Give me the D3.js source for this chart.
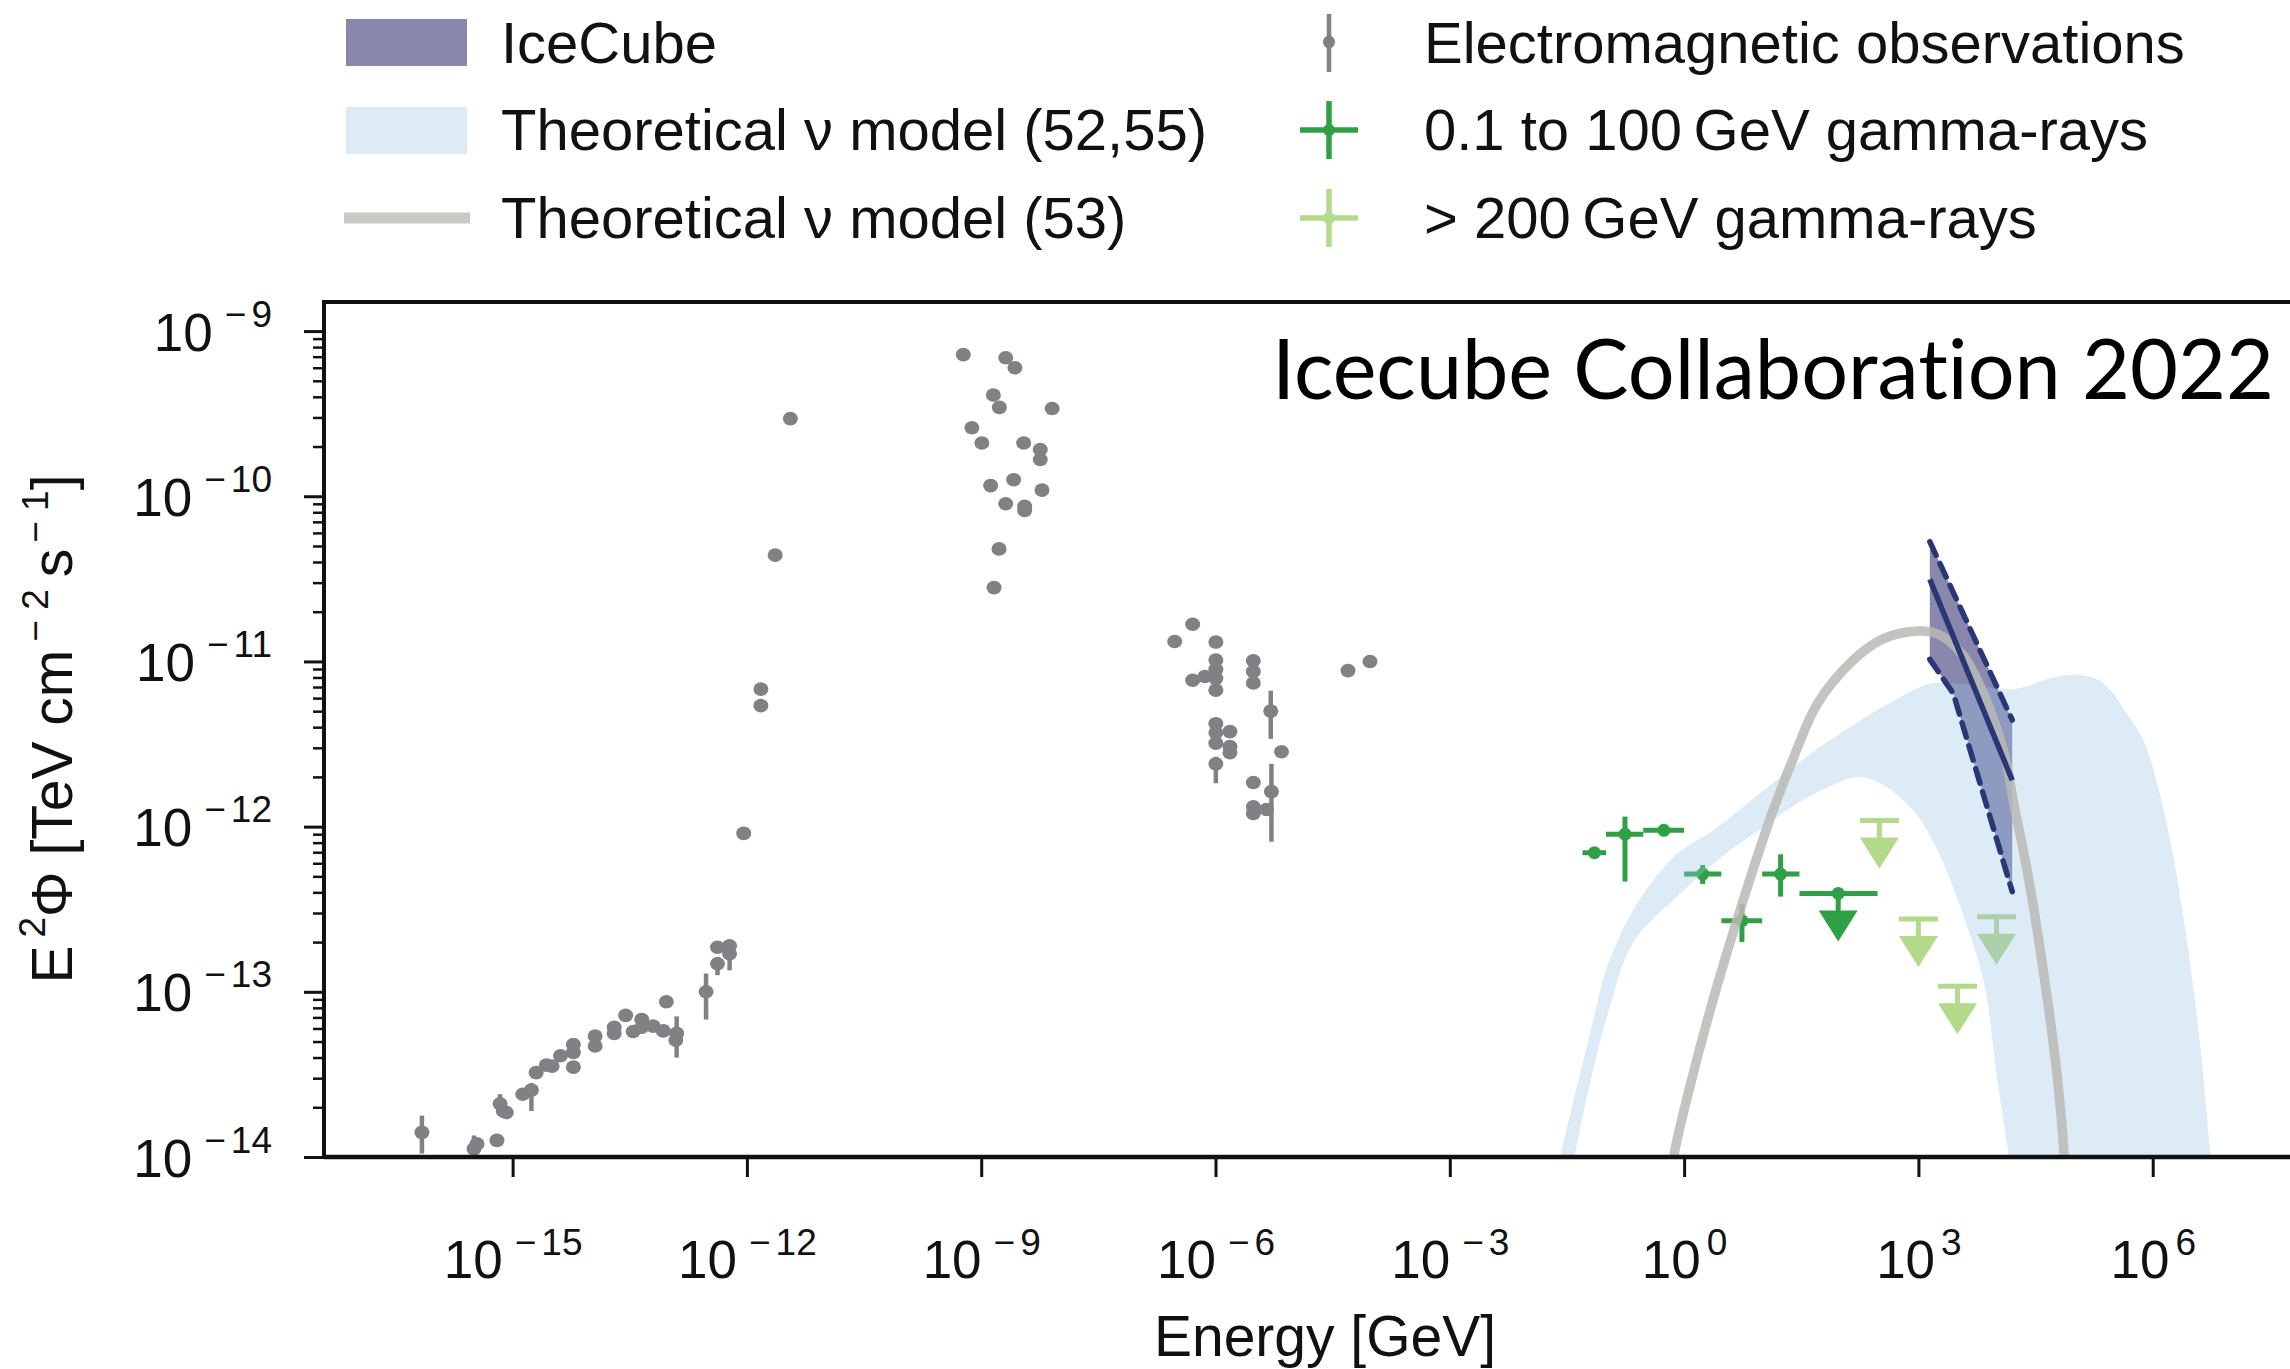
<!DOCTYPE html>
<html>
<head>
<meta charset="utf-8">
<script src="https://cdn.jsdelivr.net/npm/d3@7"></script>
<style>
  body { margin: 0; background: #fff; }
  svg { display: block; font-family: "Liberation Sans", Arial, sans-serif; }
  .title { font-variant-ligatures: none; font-feature-settings: "liga" 0, "clig" 0; }
</style>
</head>
<body>
<svg id="chart" width="2290" height="1369"></svg>
<script>
// ---- electromagnetic observations (E in GeV, E^2 Phi in TeV cm^-2 s^-1) ----
var emEnergy = [6.9e-17, 3.2e-16, 3.5e-16, 6.3e-16, 6.9e-16, 7.6e-16, 8.3e-16, 1.35e-15, 1.74e-15, 2.0e-15,
                2.7e-15, 3.2e-15, 4.1e-15, 6.0e-15, 6.0e-15, 6.0e-15, 1.14e-14, 1.14e-14, 2.0e-14, 2.0e-14,
                2.8e-14, 3.5e-14, 4.5e-14, 4.5e-14, 6.3e-14, 8.5e-14, 9.3e-14, 1.26e-13, 1.23e-13, 3.0e-13,
                4.2e-13, 4.2e-13, 6.0e-13, 6.0e-13, 9.1e-13, 1.51e-12, 1.51e-12, 2.3e-12, 3.6e-12,
                5.9e-10, 2.06e-9, 2.7e-9, 1.43e-9, 1.71e-9, 8.1e-9, 7.6e-10, 1.02e-9, 3.5e-9, 5.7e-9,
                5.7e-9, 2.6e-9, 1.32e-9, 6.0e-9, 2.06e-9, 3.6e-9, 3.6e-9, 1.69e-9, 1.46e-9,
                5.1e-7, 3.0e-7, 1.01e-6, 1.01e-6, 1.01e-6, 5.1e-7, 7.3e-7, 1.01e-6, 1.01e-6, 3.05e-6,
                3.05e-6, 3.05e-6, 5.1e-6, 1.01e-6, 1.01e-6, 1.53e-6, 1.01e-6, 1.53e-6, 1.53e-6, 1.01e-6,
                7.0e-6, 3.05e-6, 5.2e-6, 3.05e-6, 3.05e-6, 4.5e-6, 4.97e-5, 9.5e-5];
var emFlux = [1.41e-14, 1.12e-14, 1.2e-14, 1.26e-14, 2.1e-14, 1.9e-14, 1.86e-14, 2.4e-14, 2.54e-14, 3.24e-14,
              3.6e-14, 3.55e-14, 4.1e-14, 4.8e-14, 4.3e-14, 3.5e-14, 5.4e-14, 4.7e-14, 6.1e-14, 5.6e-14,
              7.2e-14, 5.75e-14, 6.8e-14, 6.1e-14, 6.2e-14, 5.8e-14, 8.7e-14, 5.6e-14, 5.1e-14, 1.0e-13,
              1.48e-13, 1.86e-13, 1.9e-13, 1.7e-13, 9.1e-13, 6.8e-12, 5.4e-12, 4.4e-11, 2.95e-10,
              7.2e-10, 6.9e-10, 6.0e-10, 4.1e-10, 3.45e-10, 3.4e-10, 2.6e-10, 2.1e-10, 2.1e-10, 1.92e-10,
              1.67e-10, 1.26e-10, 1.16e-10, 1.09e-10, 9.0e-11, 8.7e-11, 8.2e-11, 4.8e-11, 2.8e-11,
              1.68e-11, 1.32e-11, 1.31e-11, 1.02e-11, 8.95e-12, 7.7e-12, 8.1e-12, 7.9e-12, 6.7e-12, 1.01e-11,
              8.7e-12, 7.4e-12, 5.0e-12, 4.2e-12, 3.7e-12, 3.76e-12, 3.2e-12, 3.05e-12, 2.8e-12, 2.4e-12,
              2.84e-12, 1.85e-12, 1.63e-12, 1.32e-12, 1.2e-12, 1.27e-12, 8.8e-12, 1.0e-11];
// vertical error bars, null where none is drawn
var emFluxLow = [1.05e-14, 1.0e-14, null, null, 1.9e-14, null, null, null, 1.9e-14, null,
                 null, null, null, null, null, null, null, null, null, null,
                 null, null, null, null, null, null, null, 4.0e-14, null, 6.8e-14,
                 1.26e-13, null, null, 1.35e-13, null, null, null, null, null,
                 null, null, null, null, null, null, null, null, null, null,
                 null, null, null, null, null, null, null, null, null,
                 null, null, null, null, null, null, null, null, null, null,
                 null, null, 3.4e-12, null, null, null, null, null, null, 1.83e-12,
                 null, null, 8.1e-13, null, null, null, null, null];
var emFluxHigh = [1.78e-14, 1.35e-14, null, null, 2.4e-14, null, null, null, 2.8e-14, null,
                  null, null, null, null, null, null, null, null, null, null,
                  null, null, null, null, null, null, null, 7.1e-14, null, 1.29e-13,
                  1.62e-13, null, null, 2.0e-13, null, null, null, null, null,
                  null, null, null, null, null, null, null, null, null, null,
                  null, null, null, null, null, null, null, null, null,
                  null, null, null, null, null, null, null, null, null, null,
                  null, null, 6.65e-12, null, null, null, null, null, null, 2.65e-12,
                  null, null, 2.4e-12, null, null, null, null, null];

// ---- 0.1 to 100 GeV gamma-rays ----
var fermiEnergy = [0.071, 0.175, 0.55, 1.73, 5.5, 17.2];
var fermiEnergyLow = [0.05, 0.1, 0.3, 1, 3, 10];
var fermiEnergyHigh = [0.1, 0.3, 1, 3, 10, 30];
var fermiFlux = [6.95e-13, 9.0e-13, 9.5e-13, 5.16e-13, 2.69e-13, 5.16e-13];
var fermiFluxLow = [null, 4.65e-13, null, 4.5e-13, 2.0e-13, 3.77e-13];
var fermiFluxHigh = [null, 1.15e-12, null, 5.86e-13, 3.39e-13, 6.8e-13];
var fermiLimitEnergy = [94];
var fermiLimitLow = [30];
var fermiLimitHigh = [300];
var fermiLimitFlux = [3.94e-13];

// ---- > 200 GeV gamma-rays (upper limits) ----
var vheEnergyLow = [178, 562, 1780, 5620];
var vheEnergyHigh = [562, 1780, 5620, 17800];
var vheLimitFlux = [1.09e-12, 2.76e-13, 1.08e-13, 2.85e-13];

// ---- IceCube ----
var iceEnergy = [1.4e3, 1.59e4];
var iceBestFit = [3.14e-11, 1.91e-12];
var iceUpper = [5.31e-11, 4.42e-12];
var iceLowerEnergy = [1.4e3, 2.8e3, 1.59e4];
var iceLower = [1.03e-11, 6.4e-12, 4.04e-13];

// ---- theoretical model (52,55) band ----
var bandUpperEnergy = [1.84e-2, 2.6e-2, 4.1e-2, 6.9e-2, 9.9e-2, 0.225, 0.74, 2.6, 9.2, 38, 144, 470, 1.44e3,
                       5.1e3, 1.67e4, 5.5e4, 1.15e5, 2.24e5, 5.1e5, 7.9e5, 1.24e6, 1.79e6, 2.6e6, 3.78e6, 5.5e6, 6.3e6];
var bandUpperFlux = [5.0e-15, 1.02e-14, 2.51e-14, 6.81e-14, 1.33e-13, 3.16e-13, 6.58e-13, 9.82e-13, 1.58e-12,
                     2.67e-12, 4.11e-12, 5.74e-12, 7.35e-12, 7.16e-12, 6.79e-12, 8.02e-12, 8.28e-12, 7.5e-12,
                     4.54e-12, 3.18e-12, 1.56e-12, 7.02e-13, 2.42e-13, 6.38e-14, 1.02e-14, 5.0e-15];
var bandLowerEnergy = [3.0e-2, 3.98e-2, 5.92e-2, 0.107, 0.225, 0.855, 3.03, 9.93, 24.2, 59, 167, 352, 920,
                       1.8e3, 3.02e3, 6.84e3, 9.91e3, 1.435e4, 1.8e4];
var bandLowerFlux = [5.0e-15, 1.02e-14, 2.51e-14, 7.52e-14, 2.0e-13, 3.85e-13, 6.58e-13, 9.82e-13, 1.32e-12,
                     1.67e-12, 2.0e-12, 1.79e-12, 1.2e-12, 7.03e-13, 3.85e-13, 1.16e-13, 3.27e-14, 1.02e-14, 5.0e-15];

// ---- theoretical model (53) curve ----
var model53Energy = [0.676, 0.736, 1.15, 2.25, 5.48, 13.3, 24.2, 50.9, 143.5, 352, 991, 1.8e3, 3.78e3, 6.84e3,
                     1.239e4, 1.671e4, 2.606e4, 4.074e4, 5.902e4, 7.362e4, 7.586e4];
var model53Flux = [6.3e-15, 1.0e-14, 2.51e-14, 8.32e-14, 3.37e-13, 1.2e-12, 2.49e-12, 5.55e-12, 1.01e-11,
                   1.37e-11, 1.53e-11, 1.46e-11, 1.08e-11, 6.34e-12, 2.85e-12, 1.37e-12, 4.71e-13, 1.24e-13,
                   3.27e-14, 1.0e-14, 6.3e-15];

var xTicks = [1e-15, 1e-12, 1e-9, 1e-6, 1e-3, 1e0, 1e3, 1e6];
var yTicks = [1e-14, 1e-13, 1e-12, 1e-11, 1e-10, 1e-9];

var gray = "#808184", green = "#30a046", lightGreen = "#b3d98b", navy = "#2a3777";
var iceFill = "#8a87ad", bandColor = "#99c2e7", curveGray = "#b9bab4";

var svg = d3.select("#chart");
var plotLeft = 324, plotTop = 302, plotBottom = 1157, plotRight = 2300;

var x = d3.scaleLog().domain([Math.pow(10, -17.415), Math.pow(10, 7.886)]).range([plotLeft, plotRight]);
var y = d3.scaleLog().domain([1e-14, Math.pow(10, -8.824)]).range([plotBottom, plotTop]);

svg.append("defs").append("clipPath").attr("id", "plotclip")
  .append("rect").attr("x", plotLeft).attr("y", plotTop)
  .attr("width", plotRight - plotLeft).attr("height", plotBottom - plotTop);

var plot = svg.append("g").attr("clip-path", "url(#plotclip)");

// electromagnetic points
var em = emEnergy.map(function(e, i){ return {e: e, f: emFlux[i], lo: emFluxLow[i], hi: emFluxHigh[i]}; });
plot.append("g").selectAll("line").data(em.filter(function(d){ return d.lo != null; }))
  .enter().append("line")
    .attr("x1", function(d){ return x(d.e); }).attr("x2", function(d){ return x(d.e); })
    .attr("y1", function(d){ return y(d.lo); }).attr("y2", function(d){ return y(d.hi); })
    .attr("stroke", gray).attr("stroke-width", 4.5);
plot.append("g").selectAll("ellipse").data(em).enter().append("ellipse")
    .attr("cx", function(d){ return x(d.e); }).attr("cy", function(d){ return y(d.f); })
    .attr("rx", 7.5).attr("ry", 6.8).attr("fill", gray);

// fermi points
var fermi = fermiEnergy.map(function(e, i){
  return {e: e, elo: fermiEnergyLow[i], ehi: fermiEnergyHigh[i], f: fermiFlux[i], lo: fermiFluxLow[i], hi: fermiFluxHigh[i]};
});
var gf = plot.append("g");
gf.selectAll("line.h").data(fermi).enter().append("line").attr("class", "h")
    .attr("x1", function(d){ return x(d.elo); }).attr("x2", function(d){ return x(d.ehi); })
    .attr("y1", function(d){ return y(d.f); }).attr("y2", function(d){ return y(d.f); })
    .attr("stroke", green).attr("stroke-width", 5);
gf.selectAll("line.v").data(fermi.filter(function(d){ return d.lo != null; })).enter().append("line").attr("class", "v")
    .attr("x1", function(d){ return x(d.e); }).attr("x2", function(d){ return x(d.e); })
    .attr("y1", function(d){ return y(d.lo); }).attr("y2", function(d){ return y(d.hi); })
    .attr("stroke", green).attr("stroke-width", 5);
gf.selectAll("circle").data(fermi).enter().append("circle")
    .attr("cx", function(d){ return x(d.e); }).attr("cy", function(d){ return y(d.f); })
    .attr("r", 6.5).attr("fill", green);

// upper limit arrow: bar at the limit, stem, triangle head
function upperLimits(g, data, color, withDot){
  var s = g.selectAll("g").data(data).enter().append("g");
  s.append("line")
    .attr("x1", function(d){ return x(d.elo); }).attr("x2", function(d){ return x(d.ehi); })
    .attr("y1", function(d){ return y(d.f); }).attr("y2", function(d){ return y(d.f); })
    .attr("stroke", color).attr("stroke-width", 5);
  s.append("line")
    .attr("x1", function(d){ return x(d.e); }).attr("x2", function(d){ return x(d.e); })
    .attr("y1", function(d){ return y(d.f); }).attr("y2", function(d){ return y(d.f) + 19; })
    .attr("stroke", color).attr("stroke-width", 5);
  s.append("path")
    .attr("d", function(d){
      var cx = x(d.e), cy = y(d.f) + 17;
      return "M" + (cx - 19.5) + "," + cy + "L" + (cx + 19.5) + "," + cy + "L" + cx + "," + (cy + 31) + "Z";
    })
    .attr("fill", color);
  if(withDot){
    s.append("circle").attr("cx", function(d){ return x(d.e); }).attr("cy", function(d){ return y(d.f); })
      .attr("r", 6.5).attr("fill", color);
  }
}
upperLimits(plot.append("g"), fermiLimitEnergy.map(function(e, i){
  return {e: e, elo: fermiLimitLow[i], ehi: fermiLimitHigh[i], f: fermiLimitFlux[i]};
}), green, true);
upperLimits(plot.append("g"), vheLimitFlux.map(function(f, i){
  return {e: Math.sqrt(vheEnergyLow[i] * vheEnergyHigh[i]), elo: vheEnergyLow[i], ehi: vheEnergyHigh[i], f: f};
}), lightGreen, false);

// IceCube band
var icePoly = [[iceEnergy[0], iceUpper[0]], [iceEnergy[1], iceUpper[1]]];
for(var i = iceLowerEnergy.length - 1; i >= 0; i--){
  icePoly.push([iceLowerEnergy[i], iceLower[i]]);
}
var lin = d3.line().x(function(d){ return x(d[0]); }).y(function(d){ return y(d[1]); });
plot.append("path").attr("d", lin(icePoly) + "Z").attr("fill", iceFill);

// theoretical band (52,55), drawn translucent over the rest
var bandPoly = bandUpperEnergy.map(function(e, i){ return [e, bandUpperFlux[i]]; });
for(var j = bandLowerEnergy.length - 1; j >= 0; j--){
  bandPoly.push([bandLowerEnergy[j], bandLowerFlux[j]]);
}
var smooth = d3.line().x(function(d){ return x(d[0]); }).y(function(d){ return y(d[1]); })
  .curve(d3.curveCatmullRom.alpha(0.5));
plot.append("path").attr("d", smooth(bandPoly) + "Z").attr("fill", bandColor).attr("fill-opacity", 0.33);

// model (53)
plot.append("path")
  .attr("d", smooth(model53Energy.map(function(e, i){ return [e, model53Flux[i]]; })))
  .attr("fill", "none").attr("stroke", curveGray).attr("stroke-width", 9.5).attr("stroke-opacity", 0.85)
  .attr("stroke-linejoin", "round");

// IceCube lines
plot.append("path").attr("d", lin(iceEnergy.map(function(e, i){ return [e, iceUpper[i]]; })))
  .attr("stroke", navy).attr("stroke-width", 5.5).attr("stroke-dasharray", "15,9").attr("fill", "none").attr("stroke-linecap", "round");
plot.append("path").attr("d", lin(iceLowerEnergy.map(function(e, i){ return [e, iceLower[i]]; })))
  .attr("stroke", navy).attr("stroke-width", 5.5).attr("stroke-dasharray", "15,9").attr("fill", "none").attr("stroke-linecap", "round");
plot.append("path").attr("d", lin(iceEnergy.map(function(e, i){ return [e, iceBestFit[i]]; })))
  .attr("stroke", navy).attr("stroke-width", 5.5).attr("fill", "none");

// axes
function powerLabel(sel, d, big, small, rise){
  var e = Math.round(Math.log10(d));
  sel.text(null);
  sel.append("tspan").attr("font-size", big).text("10");
  if(e < 0){
    sel.append("tspan").attr("font-size", small).attr("dx", 12).attr("dy", -rise).text("\u2212");
    sel.append("tspan").attr("font-size", small).attr("dx", 5).text(String(-e));
  } else {
    sel.append("tspan").attr("font-size", small).attr("dx", 6).attr("dy", -rise).text(String(e));
  }
}

var gx = svg.append("g").attr("transform", "translate(0," + plotBottom + ")")
  .call(d3.axisBottom(x).tickValues(xTicks).tickSize(20));
gx.select(".domain").remove();
gx.selectAll(".tick line").attr("stroke", "#111").attr("stroke-width", 3);
gx.selectAll(".tick text").attr("y", 121).attr("dy", null).attr("fill", "#111")
  .attr("font-family", "'Liberation Sans', Arial, sans-serif")
  .each(function(d){ powerLabel(d3.select(this), d, 53, 37, 23); });

var gy = svg.append("g").attr("transform", "translate(" + plotLeft + ",0)")
  .call(d3.axisLeft(y).tickValues(yTicks).tickSize(20));
gy.select(".domain").remove();
gy.selectAll(".tick line").attr("stroke", "#111").attr("stroke-width", 3);
gy.selectAll(".tick text").attr("x", -52).attr("dy", null).attr("y", 19).attr("fill", "#111")
  .attr("font-family", "'Liberation Sans', Arial, sans-serif")
  .each(function(d){ powerLabel(d3.select(this), d, 53, 37, 24); });

var minor = [];
yTicks.slice(0, -1).forEach(function(t){ for(var k = 2; k <= 9; k++){ minor.push(k * t); } });
var gym = svg.append("g").attr("transform", "translate(" + plotLeft + ",0)")
  .call(d3.axisLeft(y).tickValues(minor).tickSize(11).tickFormat(""));
gym.select(".domain").remove();
gym.selectAll(".tick line").attr("stroke", "#111").attr("stroke-width", 2.5);

// spines
svg.append("line").attr("x1", plotLeft).attr("x2", plotLeft).attr("y1", plotTop - 2).attr("y2", plotBottom + 2)
  .attr("stroke", "#111").attr("stroke-width", 4);
svg.append("line").attr("x1", plotLeft).attr("x2", 2290).attr("y1", plotTop).attr("y2", plotTop)
  .attr("stroke", "#111").attr("stroke-width", 4);
svg.append("line").attr("x1", plotLeft).attr("x2", 2290).attr("y1", plotBottom).attr("y2", plotBottom)
  .attr("stroke", "#111").attr("stroke-width", 4.5);

// axis titles
svg.append("text").attr("x", 1325).attr("y", 1356).attr("text-anchor", "middle")
  .attr("font-size", 57).attr("fill", "#111").text("Energy [GeV]");

var yl = svg.append("text").attr("transform", "translate(72,729) rotate(-90)")
  .attr("text-anchor", "middle").attr("font-size", 57).attr("fill", "#111");
yl.append("tspan").text("E");
yl.append("tspan").attr("dy", -27).attr("dx", 8).attr("font-size", 37).text("2");
yl.append("tspan").attr("dy", 27).text("\u03A6 [TeV cm");
yl.append("tspan").attr("dy", -24).attr("dx", 8).attr("font-size", 37).text("\u2212 2");
yl.append("tspan").attr("dy", 24).attr("dx", 12).text("s");
yl.append("tspan").attr("dy", -24).attr("dx", 6).attr("font-size", 37).text("\u2212 1");
yl.append("tspan").attr("dy", 24).text("]");

// title inside the plot
svg.append("text").attr("class", "title").attr("x", 2274).attr("y", 399).attr("text-anchor", "end")
  .attr("font-family", "Lato, 'Open Sans', sans-serif").attr("font-size", 84).attr("fill", "#000")
  .attr("textLength", 1002).attr("lengthAdjust", "spacingAndGlyphs")
  .text("Icecube Collaboration 2022");

// legend
var lg = svg.append("g").attr("font-size", 58).attr("fill", "#111");
lg.append("rect").attr("x", 346).attr("y", 19).attr("width", 121).attr("height", 47).attr("fill", iceFill);
lg.append("rect").attr("x", 346).attr("y", 107).attr("width", 121).attr("height", 47).attr("fill", "#deebf7");
lg.append("line").attr("x1", 344).attr("x2", 470).attr("y1", 218).attr("y2", 218)
  .attr("stroke", "#c9cac4").attr("stroke-width", 11);
lg.append("text").attr("x", 501).attr("y", 63).text("IceCube");
lg.append("text").attr("x", 501).attr("y", 150).text("Theoretical \u03BD model (52,55)");
lg.append("text").attr("x", 501).attr("y", 238).text("Theoretical \u03BD model (53)");

lg.append("line").attr("x1", 1329).attr("x2", 1329).attr("y1", 14).attr("y2", 72).attr("stroke", gray).attr("stroke-width", 4.5);
lg.append("ellipse").attr("cx", 1329).attr("cy", 42).attr("rx", 6).attr("ry", 6.5).attr("fill", gray);
[[130, green], [218, lightGreen]].forEach(function(r){
  lg.append("line").attr("x1", 1300).attr("x2", 1358).attr("y1", r[0]).attr("y2", r[0]).attr("stroke", r[1]).attr("stroke-width", 5.5);
  lg.append("line").attr("x1", 1329).attr("x2", 1329).attr("y1", r[0] - 29).attr("y2", r[0] + 29).attr("stroke", r[1]).attr("stroke-width", 5.5);
  lg.append("circle").attr("cx", 1329).attr("cy", r[0]).attr("r", 6).attr("fill", r[1]);
});
lg.append("text").attr("x", 1424).attr("y", 63).text("Electromagnetic observations");
lg.append("text").attr("x", 1424).attr("y", 150).text("0.1 to 100\u2009GeV gamma-rays");
lg.append("text").attr("x", 1424).attr("y", 238).text("> 200\u2009GeV gamma-rays");
</script>
</body>
</html>
